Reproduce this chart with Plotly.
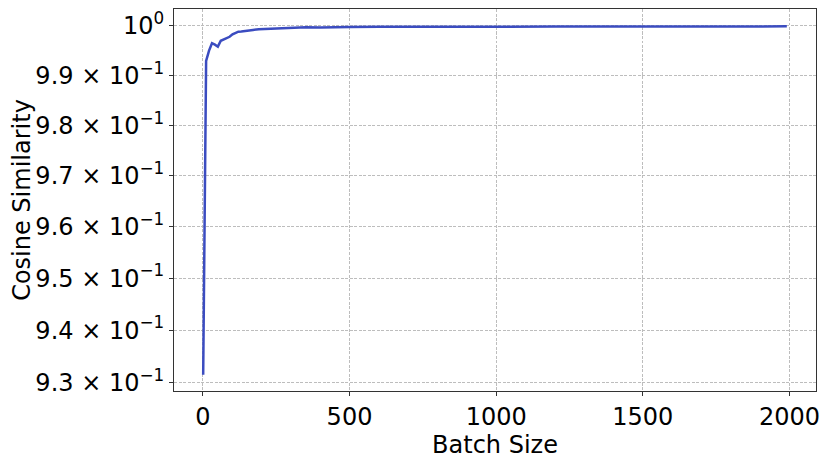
import plotly.graph_objects as go

# Datos
batch_size = [1, 11, 21, 31, 41, 51, 61, 71, 81, 91, 101, 111, 121, 131, 141,
              151, 171, 191, 221, 251, 281, 311, 351, 401, 451, 501, 601, 701,
              801, 1001, 1201, 1401, 1601, 1801, 1991]
cos_sim = [0.9315, 0.9929, 0.9950, 0.9965, 0.9962, 0.9958, 0.9970, 0.9973,
           0.9975, 0.9978, 0.9983, 0.9986, 0.99885, 0.9989, 0.9990, 0.99905,
           0.9992, 0.99933, 0.9994, 0.9995, 0.9996, 0.99972, 0.99975, 0.9997,
           0.9998, 0.9998, 0.99982, 0.99980, 0.99984, 0.99985, 0.99987,
           0.99988, 0.9999, 0.99991, 0.99992]

y_ticks = [0.93, 0.94, 0.95, 0.96, 0.97, 0.98, 0.99, 1.0]
y_ticktext = ["9.3 × 10<sup>−1</sup>", "9.4 × 10<sup>−1</sup>",
              "9.5 × 10<sup>−1</sup>", "9.6 × 10<sup>−1</sup>",
              "9.7 × 10<sup>−1</sup>", "9.8 × 10<sup>−1</sup>",
              "9.9 × 10<sup>−1</sup>", "10<sup>0</sup>"]
x_ticks = [0, 500, 1000, 1500, 2000]

line = go.Scatter(
    x=batch_size, y=cos_sim,
    mode='lines',
    line=dict(color='#3b4cc0', width=2.5),
    hoverinfo='x+y'
)

fig = go.Figure(data=[line])

# estilo de ejes comun (marco negro, rejilla punteada)
eje = dict(
    ticks='outside', ticklen=4, tickcolor='#333333', tickwidth=1,
    showline=True, linecolor='#333333', linewidth=1, mirror=True,
    showgrid=True, gridcolor='#bdbdbd', griddash='3px,1.5px', gridwidth=0.7,
    zeroline=False, automargin=False, ticklabeloverflow='allow',
    tickfont=dict(size=24)
)

# rango con margen tipo matplotlib
x_pad = (max(batch_size) - min(batch_size)) * 0.05

# la pagina agrega 8px de margen al body, se compensa aqui
fig.update_layout(
    width=823, height=453,
    showlegend=False,
    paper_bgcolor='white',
    plot_bgcolor='white',
    margin=dict(l=166, r=15, t=1, b=70),
    font=dict(family='DejaVu Sans', size=24, color='black'),
    xaxis=dict(
        title=dict(text='Batch Size', standoff=0, font=dict(size=24)),
        range=[min(batch_size) - x_pad, max(batch_size) + x_pad],
        tickvals=x_ticks,
        **eje
    ),
    yaxis=dict(
        title=dict(text='Cosine Similarity', standoff=8, font=dict(size=24)),
        type='log',
        range=[-0.03225, 0.0015],
        tickvals=y_ticks, ticktext=y_ticktext,
        **eje
    )
)

fig.write_html("out.html")
